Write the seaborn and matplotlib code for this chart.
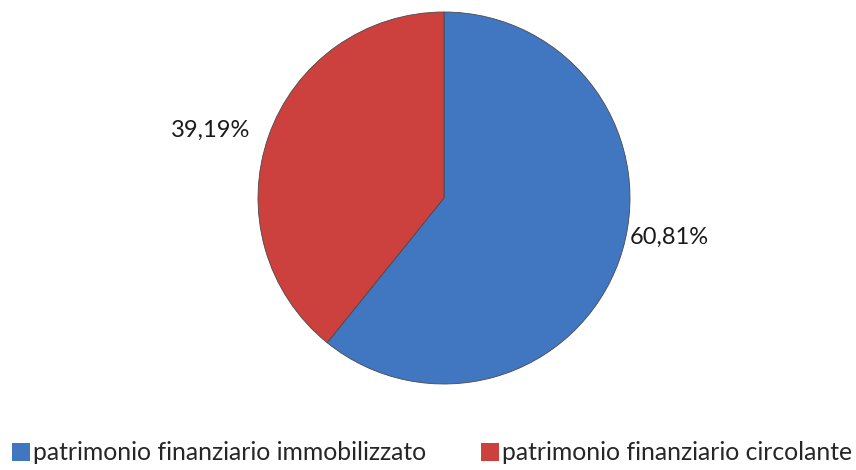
import matplotlib
matplotlib.use("Agg")
import matplotlib.pyplot as plt
from matplotlib.patches import Patch
import seaborn as sns

categories = ["patrimonio finanziario immobilizzato", "patrimonio finanziario circolante"]
values = [60.81, 39.19]
value_labels = ["60,81%", "39,19%"]

sns.set_theme(style="white")
plt.rcParams['font.family'] = ['Lato', 'DejaVu Sans']

colors = ["#4177c1", "#cc403d"]

fig = plt.figure(figsize=(8.56, 4.70), dpi=100)
ax = fig.add_axes([(444 - 186) / 856, (470 - 384) / 470, 372 / 856, 372 / 470])

wedges, _ = ax.pie(values, colors=colors, startangle=90, counterclock=False,
                   wedgeprops=dict(edgecolor="#4a4a4a", linewidth=0.6))
ax.set_xlim(-1.0, 1.0)
ax.set_ylim(-1.0, 1.0)
ax.axis("off")

# label positions (Excel "best fit")
ax.text(1.0, -0.21, value_labels[0], ha="left", va="center", fontsize=17, color="#1a1a1a")
ax.text(-1.04, 0.365, value_labels[1], ha="right", va="center", fontsize=17, color="#1a1a1a")

handles = [Patch(facecolor=c, edgecolor="none") for c in colors]
fig.legend(handles, categories, loc="center left", bbox_to_anchor=(12 / 856, 1 - 453 / 470),
           ncol=2, frameon=False, fontsize=17.8, handlelength=0.73, handleheight=0.73,
           handletextpad=0.12, columnspacing=2.2, borderpad=0, borderaxespad=0)

fig.savefig("out.png", dpi=100, facecolor="white")
